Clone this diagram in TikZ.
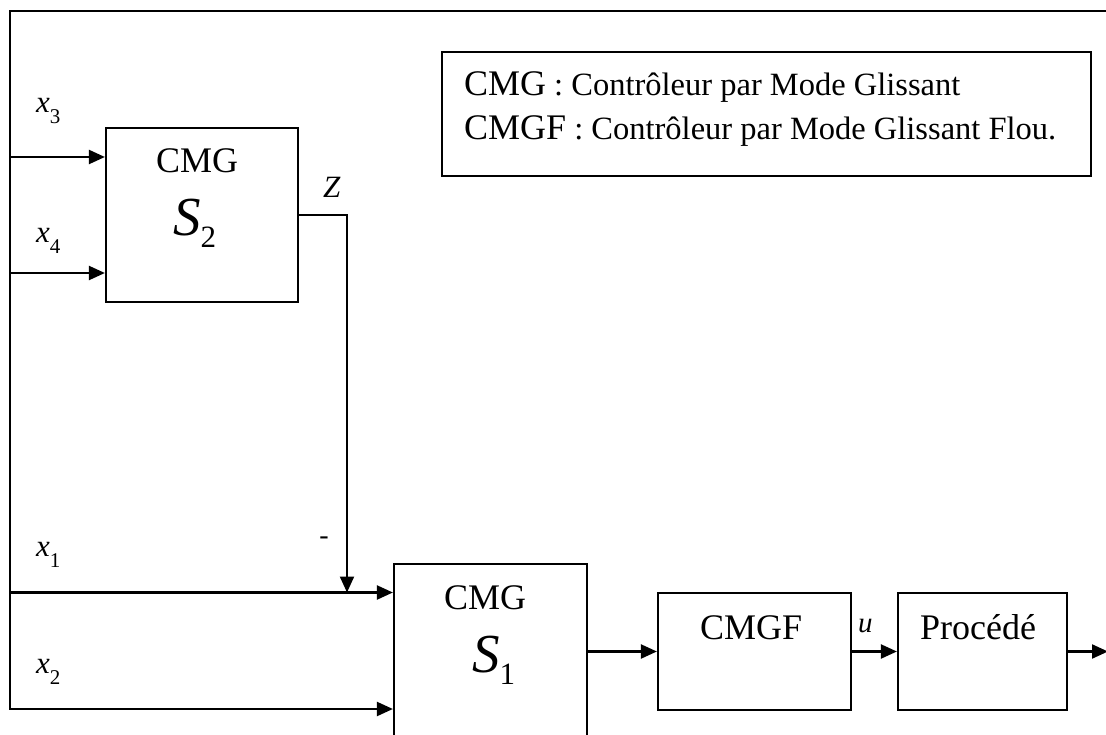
\documentclass[tikz,border=0pt]{standalone}
\usepackage{fontspec}
\setmainfont{Liberation Serif}
\usetikzlibrary{arrows.meta}
\newcommand{\fsz}[1]{\fontsize{#1}{#1}\selectfont}
\begin{document}
\begin{tikzpicture}[x=1pt,y=-1pt,line width=2.2pt,
  blk/.style={draw,inner sep=0pt,line width=2.2pt},
  arr/.style={-{Triangle[length=16pt,width=14pt]}},
  txt/.style={inner sep=0pt,anchor=base west}]
\useasboundingbox (0,0) rectangle (1106,735);
\clip (0,0) rectangle (1106,735);
% blocks
\node[blk,minimum width=192pt,minimum height=174pt] (s2) at (202,215) {};
\node[blk,minimum width=193pt,minimum height=200pt] (s1) at (490.5,664) {};
\node[blk,minimum width=193pt,minimum height=117pt] (cmgf) at (754.5,651.5) {};
\node[blk,minimum width=169pt,minimum height=117pt] (proc) at (982.5,651.5) {};
\node[blk,minimum width=649pt,minimum height=124pt] (leg) at (766.5,114) {};
% coordinates
\coordinate (TR) at (1112,11);
\coordinate (TL) at (10,11);
\coordinate (BL) at (10,709);
\coordinate (A3) at (10,157);
\coordinate (A4) at (10,273);
\coordinate (A1) at (10,592.5);
\coordinate (zc) at (347,215);
\coordinate (out) at (1108,651.5);
% connectors
\draw[arr] (TR) -- (TL) -- (BL) -- (BL -| s1.west);
\draw[arr] (A3) -- (A3 -| s2.west);
\draw[arr] (A4) -- (A4 -| s2.west);
\draw[arr] (A1) -- (A1 -| s1.west);
\draw[arr] (s2.east |- zc) -- (zc) -- (zc |- A1);
\draw[arr] (s1.east |- cmgf.west) -- (cmgf.west);
\draw[arr] (cmgf.east) -- (proc.west);
\draw[arr] (proc.east) -- (out);
% labels
\node[txt] (lx3) at (35,113) {\fsz{31}\textit{x}\raisebox{-11pt}{\fsz{21}3}};
\node[txt] (lx4) at (35,243) {\fsz{31}\textit{x}\raisebox{-11pt}{\fsz{21}4}};
\node[txt] (lx1) at (35,556) {\fsz{31}\textit{x}\raisebox{-11pt}{\fsz{21}1}};
\node[txt] (lx2) at (35,673) {\fsz{31}\textit{x}\raisebox{-11pt}{\fsz{21}2}};
\node[txt] (t2) at (155,173) {\fsz{36}CMG};
\node[txt] (sS2) at (172,236) {\fsz{55}\textit{S}\raisebox{-12pt}{\fsz{31}2}};
\node[txt] (lz) at (322,198) {\fsz{31}\textit{Z}};
\node[inner sep=0pt] (lm) at (324,541) {\fsz{28}-};
\node[txt] (t1) at (443,609) {\fsz{36}CMG};
\node[txt] (sS1) at (471,672) {\fsz{55}\textit{S}\raisebox{-12pt}{\fsz{31}1}};
\node[txt] (tf) at (699,639) {\fsz{36}CMGF};
\node[txt] (lu) at (857,632) {\fsz{29}\textit{u}};
\node[txt] (tp) at (919,639) {\fsz{36}Procédé};
\node[txt] (g1) at (463,96) {\fsz{36}CMG\fsz{32.5} : Contrôleur par Mode Glissant};
\node[txt] (g2) at (463,140) {\fsz{36}CMGF\fsz{32.5} : Contrôleur par Mode Glissant Flou.};
\end{tikzpicture}
\end{document}
